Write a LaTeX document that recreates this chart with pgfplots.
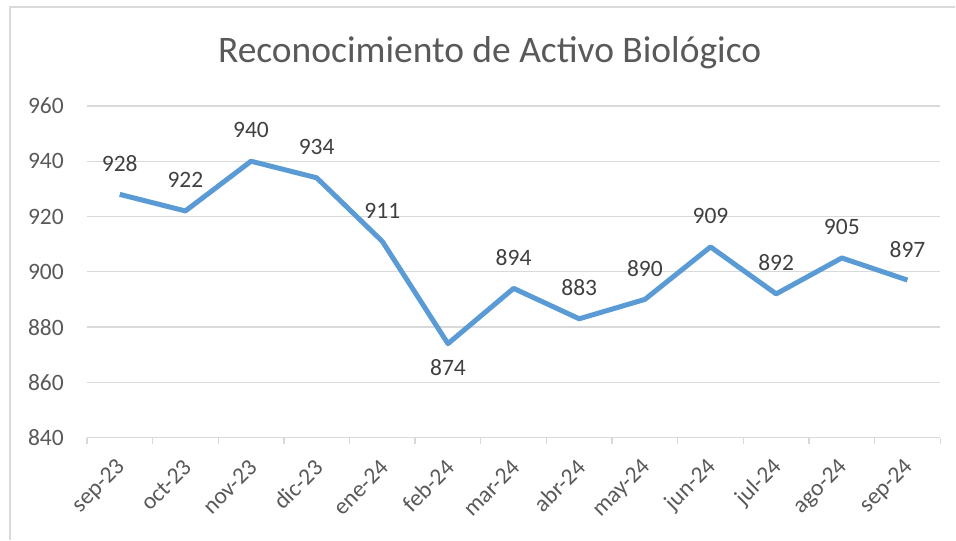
\documentclass[border=0pt]{standalone}
\usepackage{fontspec}
\setmainfont{Carlito}
\usepackage{pgfplots}
\pgfplotsset{compat=1.18}
\definecolor{lineBlue}{HTML}{5B9BD5}
\definecolor{gridGray}{HTML}{D9D9D9}
\definecolor{tickGray}{HTML}{595959}
\definecolor{labelGray}{HTML}{404040}

\begin{document}
\begin{tikzpicture}
\begin{axis}[
    at={(0pt,0pt)}, anchor=south west,
    scale only axis,
    width=854pt, height=332pt,
    xmin=-0.5, xmax=12.5,
    ymin=840, ymax=960,
    ytick={840,860,880,900,920,940,960},
    xtick={0,1,2,3,4,5,6,7,8,9,10,11,12},
    xticklabels={sep-23,oct-23,nov-23,dic-23,ene-24,feb-24,mar-24,abr-24,may-24,jun-24,jul-24,ago-24,sep-24},
    minor xtick={-0.5,0.5,1.5,2.5,3.5,4.5,5.5,6.5,7.5,8.5,9.5,10.5,11.5,12.5},
    major tick length=0pt,
    minor tick length=6pt,
    tick align=outside,
    axis x line*=bottom,
    axis y line*=left,
    x axis line style={-,draw=gridGray,line width=1.3pt},
    y axis line style={draw=none},
    xtick style={draw=none},
    minor x tick style={draw=gridGray,line width=1.3pt},
    ytick style={draw=none},
    ymajorgrids=true,
    grid style={draw=gridGray,line width=1.3pt},
    tick label style={font=\fontsize{23.5}{26}\selectfont,text=tickGray},
    /pgf/number format/assume math mode=true,
    yticklabel style={anchor=east,inner sep=0pt,xshift=-23pt},
    xticklabel style={inner sep=0pt,anchor=east,yshift=-26pt,xshift=2pt,rotate=45},
    clip=false,
]
\addplot[lineBlue,line width=5pt,line join=round,mark=none] coordinates {
    (0,928) (1,922) (2,940) (3,934) (4,911) (5,874) (6,894)
    (7,883) (8,890) (9,909) (10,892) (11,905) (12,897)
};
\addplot[draw=none,mark=none,nodes near coords,
    nodes near coords style={anchor=center,yshift=31pt,font=\fontsize{23.5}{26}\selectfont,text=labelGray,
        /pgf/number format/assume math mode=true}] coordinates {
    (0,928) (1,922) (2,940) (3,934) (4,911) (6,894)
    (7,883) (8,890) (9,909) (10,892) (11,905) (12,897)
};
\addplot[draw=none,mark=none,nodes near coords,
    nodes near coords style={anchor=center,yshift=-24pt,font=\fontsize{23.5}{26}\selectfont,text=labelGray,
        /pgf/number format/assume math mode=true}] coordinates {
    (5,874)
};
\end{axis}
\draw[gridGray,line width=1.5pt] (-77pt,-102pt) -- (-77pt,431pt) -- (869pt,431pt);
\node[anchor=base,text=tickGray,font=\fontsize{37.5}{40}\selectfont] at (403pt,375pt) {Reconocimiento de Activo Biológico};
\path[use as bounding box] (-87pt,-102pt) rectangle (869pt,438pt);
\end{tikzpicture}
\end{document}
